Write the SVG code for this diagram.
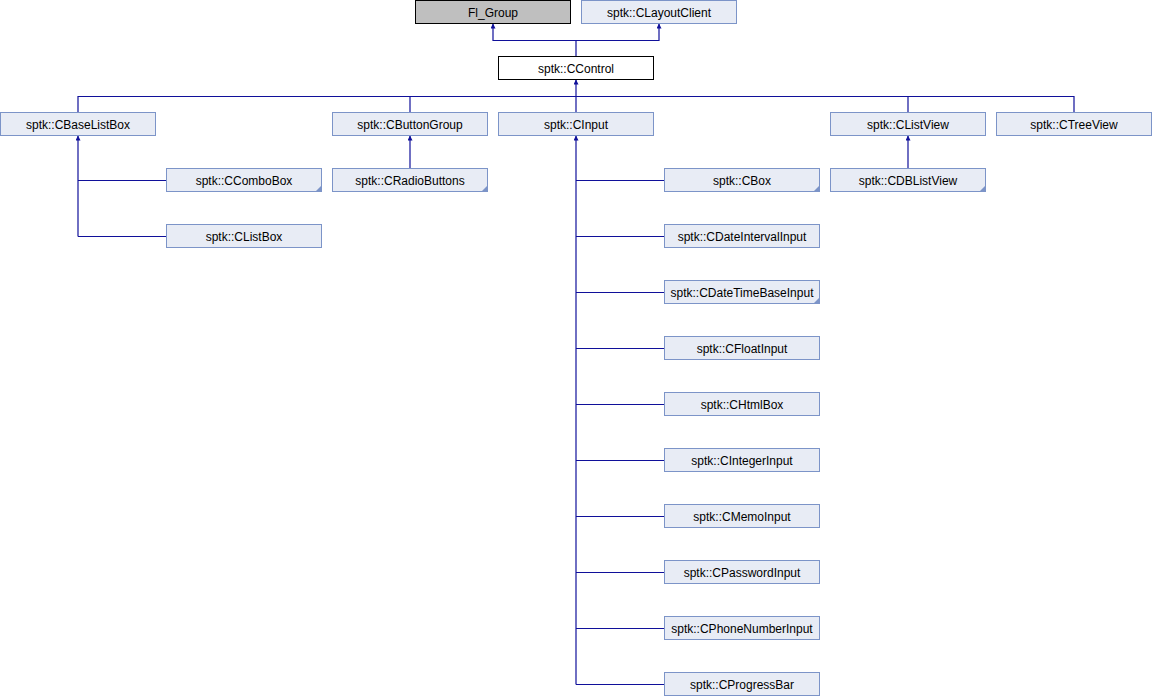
<svg xmlns="http://www.w3.org/2000/svg" width="1152" height="696" viewBox="0 0 1152 696">
<defs>
<style>
.n rect{fill:#e8ecf5;stroke:#7c94c8;stroke-width:1}
.cur rect{fill:#ffffff;stroke:#000000}
.ext rect{fill:#bfbfbf;stroke:#000000}
.n text{font-family:"Liberation Sans",Arial,sans-serif;font-size:12px;fill:#000000;text-anchor:middle}
.n polygon{fill:#7c94c8}
#edges path{fill:none;stroke:#10109a;stroke-width:1.2}
</style>
<marker id="arr" viewBox="0 0 5 5" refX="5" refY="2.5" markerWidth="5" markerHeight="5" markerUnits="userSpaceOnUse" orient="auto">
<path d="M0,0 L5,2.5 L0,5 Z" fill="#10109a"/>
</marker>
</defs>
<rect x="0" y="0" width="1152" height="696" fill="#ffffff"/>
<g id="edges">
<path d="M576,56.5 V40.5 H493 V23.5" marker-end="url(#arr)"/>
<path d="M576,40.5 H659 V23.5" marker-end="url(#arr)"/>
<path d="M576,112.5 V79.5" marker-end="url(#arr)"/>
<path d="M78,112.5 V96.5 H1074 V112.5"/>
<path d="M410,96.5 V112.5"/>
<path d="M908,96.5 V112.5"/>
<path d="M78,236.5 V135.5" marker-end="url(#arr)"/>
<path d="M166.5,180.5 H78"/>
<path d="M166.5,236.5 H78"/>
<path d="M410,168.5 V135.5" marker-end="url(#arr)"/>
<path d="M908,168.5 V135.5" marker-end="url(#arr)"/>
<path d="M576,684.5 V135.5" marker-end="url(#arr)"/>
<path d="M664.5,180.5 H576 M664.5,236.5 H576 M664.5,292.5 H576 M664.5,348.5 H576 M664.5,404.5 H576 M664.5,460.5 H576 M664.5,516.5 H576 M664.5,572.5 H576 M664.5,628.5 H576 M664.5,684.5 H576"/>
</g>
<g id="FI_Group" class="n ext"><rect x="415.5" y="0.5" width="155" height="23"/><text x="493" y="16.5">Fl_Group</text></g>
<g id="CLayoutClient" class="n"><rect x="581.5" y="0.5" width="155" height="23"/><text x="659" y="16.5">sptk::CLayoutClient</text></g>
<g id="CControl" class="n cur"><rect x="498.5" y="56.5" width="155" height="23"/><text x="576" y="72.5">sptk::CControl</text></g>
<g id="CBaseListBox" class="n"><rect x="0.5" y="112.5" width="155" height="23"/><text x="78" y="128.5">sptk::CBaseListBox</text></g>
<g id="CButtonGroup" class="n"><rect x="332.5" y="112.5" width="155" height="23"/><text x="410" y="128.5">sptk::CButtonGroup</text></g>
<g id="CInput" class="n"><rect x="498.5" y="112.5" width="155" height="23"/><text x="576" y="128.5">sptk::CInput</text></g>
<g id="CListView" class="n"><rect x="830.5" y="112.5" width="155" height="23"/><text x="908" y="128.5">sptk::CListView</text></g>
<g id="CTreeView" class="n"><rect x="996.5" y="112.5" width="155" height="23"/><text x="1074" y="128.5">sptk::CTreeView</text></g>
<g id="CComboBox" class="n"><rect x="166.5" y="168.5" width="155" height="23"/><text x="244" y="184.5">sptk::CComboBox</text><polygon points="321,186 321,191 316,191"/></g>
<g id="CListBox" class="n"><rect x="166.5" y="224.5" width="155" height="23"/><text x="244" y="240.5">sptk::CListBox</text></g>
<g id="CRadioButtons" class="n"><rect x="332.5" y="168.5" width="155" height="23"/><text x="410" y="184.5">sptk::CRadioButtons</text><polygon points="487,186 487,191 482,191"/></g>
<g id="CDBListView" class="n"><rect x="830.5" y="168.5" width="155" height="23"/><text x="908" y="184.5">sptk::CDBListView</text><polygon points="985,186 985,191 980,191"/></g>
<g id="CBox" class="n"><rect x="664.5" y="168.5" width="155" height="23"/><text x="742" y="184.5">sptk::CBox</text><polygon points="819,186 819,191 814,191"/></g>
<g id="CDateIntervalInput" class="n"><rect x="664.5" y="224.5" width="155" height="23"/><text x="742" y="240.5">sptk::CDateIntervalInput</text></g>
<g id="CDateTimeBaseInput" class="n"><rect x="664.5" y="280.5" width="155" height="23"/><text x="742" y="296.5">sptk::CDateTimeBaseInput</text><polygon points="819,298 819,303 814,303"/></g>
<g id="CFloatInput" class="n"><rect x="664.5" y="336.5" width="155" height="23"/><text x="742" y="352.5">sptk::CFloatInput</text></g>
<g id="CHtmlBox" class="n"><rect x="664.5" y="392.5" width="155" height="23"/><text x="742" y="408.5">sptk::CHtmlBox</text></g>
<g id="CIntegerInput" class="n"><rect x="664.5" y="448.5" width="155" height="23"/><text x="742" y="464.5">sptk::CIntegerInput</text></g>
<g id="CMemoInput" class="n"><rect x="664.5" y="504.5" width="155" height="23"/><text x="742" y="520.5">sptk::CMemoInput</text></g>
<g id="CPasswordInput" class="n"><rect x="664.5" y="560.5" width="155" height="23"/><text x="742" y="576.5">sptk::CPasswordInput</text></g>
<g id="CPhoneNumberInput" class="n"><rect x="664.5" y="616.5" width="155" height="23"/><text x="742" y="632.5">sptk::CPhoneNumberInput</text></g>
<g id="CProgressBar" class="n"><rect x="664.5" y="672.5" width="155" height="23"/><text x="742" y="688.5">sptk::CProgressBar</text></g>
</svg>
